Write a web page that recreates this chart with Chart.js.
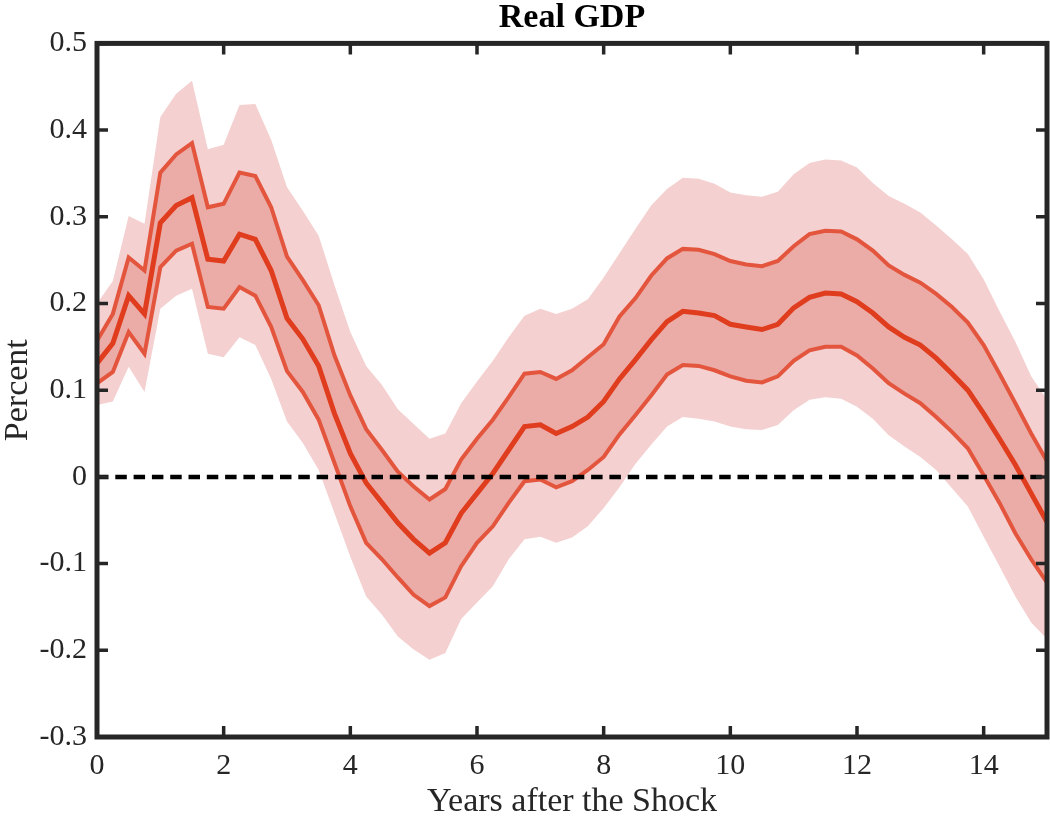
<!DOCTYPE html>
<html>
<head>
<meta charset="utf-8">
<title>Real GDP</title>
<script src="https://cdn.jsdelivr.net/npm/chart.js"></script>
<style>
  html, body { margin: 0; padding: 0; background: #fff; }
</style>
</head>
<body>
<canvas id="myChart" width="1050" height="819"></canvas>
<script>
// quarterly impulse response, 0..15 years
const median = [0.131, 0.154, 0.209, 0.188, 0.293, 0.313, 0.322, 0.251, 0.249, 0.280, 0.274, 0.238, 0.183, 0.159, 0.128, 0.073,
  0.027, -0.007, -0.030, -0.053, -0.072, -0.088, -0.076, -0.042, -0.019, 0.004, 0.031, 0.058, 0.060, 0.050, 0.058, 0.069,
  0.087, 0.113, 0.135, 0.158, 0.179, 0.191, 0.189, 0.186, 0.176, 0.173, 0.170, 0.176, 0.195, 0.207, 0.212, 0.211,
  0.202, 0.189, 0.173, 0.161, 0.152, 0.137, 0.119, 0.100, 0.073, 0.044, 0.014, -0.019, -0.052];
const upper68 = [0.157, 0.188, 0.253, 0.238, 0.351, 0.372, 0.385, 0.311, 0.315, 0.351, 0.347, 0.311, 0.254, 0.227, 0.198, 0.140,
  0.094, 0.055, 0.031, 0.006, -0.011, -0.026, -0.014, 0.020, 0.044, 0.066, 0.092, 0.119, 0.121, 0.113, 0.123, 0.138,
  0.153, 0.185, 0.206, 0.232, 0.252, 0.263, 0.262, 0.257, 0.249, 0.245, 0.243, 0.249, 0.266, 0.280, 0.284, 0.283,
  0.274, 0.261, 0.244, 0.233, 0.224, 0.211, 0.196, 0.178, 0.152, 0.119, 0.085, 0.050, 0.018];
const lower68 = [0.108, 0.121, 0.167, 0.142, 0.242, 0.261, 0.269, 0.196, 0.194, 0.219, 0.209, 0.173, 0.122, 0.098, 0.066, 0.016,
  -0.034, -0.076, -0.095, -0.116, -0.136, -0.149, -0.139, -0.103, -0.076, -0.057, -0.030, -0.005, -0.003, -0.012, -0.005, 0.008,
  0.023, 0.049, 0.071, 0.094, 0.118, 0.129, 0.128, 0.123, 0.116, 0.111, 0.109, 0.116, 0.134, 0.146, 0.150, 0.150,
  0.140, 0.125, 0.108, 0.096, 0.085, 0.069, 0.052, 0.033, 0.002, -0.030, -0.065, -0.095, -0.122];
const upper90 = [0.200, 0.226, 0.301, 0.292, 0.415, 0.442, 0.457, 0.378, 0.383, 0.429, 0.430, 0.389, 0.334, 0.307, 0.278, 0.221,
  0.167, 0.128, 0.106, 0.078, 0.061, 0.044, 0.050, 0.085, 0.110, 0.134, 0.161, 0.186, 0.194, 0.188, 0.194, 0.205,
  0.230, 0.258, 0.286, 0.313, 0.332, 0.345, 0.344, 0.338, 0.328, 0.325, 0.323, 0.329, 0.349, 0.362, 0.366, 0.365,
  0.357, 0.339, 0.324, 0.315, 0.305, 0.290, 0.274, 0.257, 0.228, 0.191, 0.156, 0.116, 0.089];
const lower90 = [0.083, 0.087, 0.127, 0.098, 0.194, 0.209, 0.217, 0.142, 0.138, 0.161, 0.152, 0.113, 0.064, 0.039, 0.008, -0.042,
  -0.092, -0.138, -0.159, -0.184, -0.199, -0.211, -0.203, -0.164, -0.145, -0.126, -0.095, -0.072, -0.069, -0.076, -0.070, -0.057,
  -0.036, -0.012, 0.015, 0.037, 0.058, 0.069, 0.067, 0.064, 0.058, 0.055, 0.054, 0.060, 0.077, 0.089, 0.092, 0.090,
  0.081, 0.067, 0.048, 0.035, 0.023, 0.008, -0.013, -0.034, -0.069, -0.103, -0.138, -0.168, -0.187];

const years = median.map((_, i) => i / 4);
const xTicks = [0, 2, 4, 6, 8, 10, 12, 14];
const yTicks = [-0.3, -0.2, -0.1, 0, 0.1, 0.2, 0.3, 0.4, 0.5];

const pts = arr => arr.map((v, i) => ({ x: years[i], y: v }));

const serif = '"Liberation Serif", "Times New Roman", serif';
const axisColor = '#262626';

// box around the plot with inward ticks on all four sides
const framePlugin = {
  id: 'frame',
  afterDraw(chart) {
    const { ctx, chartArea: a, scales: { x, y } } = chart;
    ctx.save();
    ctx.strokeStyle = axisColor;
    ctx.lineWidth = 3.5;
    ctx.beginPath();
    xTicks.forEach(v => {
      const px = x.getPixelForValue(v);
      ctx.moveTo(px, a.bottom); ctx.lineTo(px, a.bottom - 11);
      ctx.moveTo(px, a.top); ctx.lineTo(px, a.top + 11);
    });
    yTicks.forEach(v => {
      const py = y.getPixelForValue(v);
      ctx.moveTo(a.left, py); ctx.lineTo(a.left + 11, py);
      ctx.moveTo(a.right, py); ctx.lineTo(a.right - 11, py);
    });
    ctx.stroke();
    ctx.lineWidth = 5;
    ctx.strokeRect(a.left, a.top, a.right - a.left, a.bottom - a.top);
    ctx.restore();
  }
};

const ctx = document.getElementById('myChart').getContext('2d');
new Chart(ctx, {
  type: 'line',
  data: {
    datasets: [
      { data: pts(upper90), fill: '+1', backgroundColor: '#f4d0d0', borderWidth: 0, pointRadius: 0, order: 5 },
      { data: pts(lower90), fill: false, borderWidth: 0, pointRadius: 0, order: 5 },
      { data: pts(upper68), fill: '+1', backgroundColor: '#ebaca8', borderColor: '#e3553d', borderWidth: 4, pointRadius: 0, order: 3 },
      { data: pts(lower68), fill: false, borderColor: '#e3553d', borderWidth: 4, pointRadius: 0, order: 2.5 },
      { data: pts(median), fill: false, borderColor: '#e03c1e', borderWidth: 5, pointRadius: 0, order: 2 },
      { data: [{ x: years[0], y: 0 }, { x: years[years.length - 1], y: 0 }], fill: false, borderColor: '#000',
        borderWidth: 4.5, borderDash: [11.5, 6.8], pointRadius: 0, order: 1 }
    ]
  },
  options: {
    responsive: false,
    animation: false,
    devicePixelRatio: 1,
    layout: { padding: { left: 0, right: 3, top: 0, bottom: 0 } },
    elements: { line: { tension: 0, borderJoinStyle: 'miter' } },
    plugins: {
      legend: { display: false },
      tooltip: { enabled: false },
      title: {
        display: true,
        text: 'Real GDP',
        fullSize: false,
        color: '#000',
        font: { family: serif, size: 34, weight: 'bold', lineHeight: 1.1 },
        padding: { top: 0, bottom: 6 }
      }
    },
    scales: {
      x: {
        type: 'linear',
        min: 0,
        max: 15,
        grid: { display: false, drawTicks: false, tickLength: 0 },
        border: { display: false },
        afterBuildTicks: s => { s.ticks = xTicks.map(v => ({ value: v })); },
        afterFit: s => { s.height = 82; },
        ticks: {
          autoSkip: false,
          maxRotation: 0,
          padding: 11,
          color: axisColor,
          font: { family: serif, size: 30 },
          callback: v => String(v)
        },
        title: {
          display: true,
          text: 'Years after the Shock',
          color: axisColor,
          font: { family: serif, size: 34, lineHeight: 1 },
          padding: { top: 0, bottom: 0 }
        }
      },
      y: {
        type: 'linear',
        min: -0.3,
        max: 0.5,
        grid: { display: false, drawTicks: false, tickLength: 0 },
        border: { display: false },
        afterBuildTicks: s => { s.ticks = yTicks.map(v => ({ value: v })); },
        afterFit: s => { s.width = 97; },
        ticks: {
          autoSkip: false,
          padding: 10,
          color: axisColor,
          font: { family: serif, size: 30 },
          callback: v => (Math.abs(v) < 1e-9 ? '0' : v.toFixed(1))
        },
        title: {
          display: true,
          text: 'Percent',
          color: axisColor,
          font: { family: serif, size: 34, lineHeight: 1 },
          padding: { top: 1, bottom: 0 }
        }
      }
    }
  },
  plugins: [framePlugin]
});
</script>
</body>
</html>
